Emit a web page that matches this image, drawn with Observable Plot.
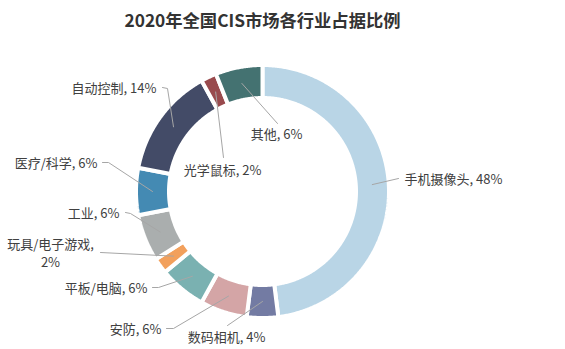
<!DOCTYPE html>
<html>
<head>
<meta charset="utf-8">
<script src="https://cdn.jsdelivr.net/npm/d3@7"></script>
<script src="https://cdn.jsdelivr.net/npm/@observablehq/plot@0.6"></script>
<style>
  html, body { margin: 0; padding: 0; background: #ffffff; }
  #chart svg { display: block; }
</style>
</head>
<body>
<div id="chart"></div>
<script>
// ---- data ----
const title = "2020年全国CIS市场各行业占据比例";
const categories = ["手机摄像头", "数码相机", "安防", "平板/电脑", "玩具/电子游戏", "工业", "医疗/科学", "自动控制", "光学鼠标", "其他"];
const shares = [48, 4, 6, 6, 2, 6, 6, 14, 2, 6];
const colors = ["#b9d5e6", "#737ba3", "#d4a5a6", "#7ab1b1", "#f2a05c", "#aaaeae", "#448ab3", "#434b67", "#994a4d", "#447271"];

// ---- layout (pixels relative to donut centre, screen orientation) ----
const W = 565, H = 349, CX = 262, CY = 191;
const R = 126.5, r = 93.5, anchorR = 110;
// label text point, text anchor, leader line points (after the slice anchor)
const labelLayout = [
  {tx: 142, ty: -13, ta: "start", pts: [[136, -13]]},
  {tx: -36, ty: 145, ta: "middle", pts: [[-35, 134]]},
  {tx: -101, ty: 137, ta: "end", pts: [[-89, 137], [-96, 137]]},
  {tx: -115, ty: 96, ta: "end", pts: [[-104, 96], [-110, 96]]},
  {tx: -212, ty: 61, ta: "middle", pts: [[-162, 61]], wrap: true},
  {tx: -143, ty: 21, ta: "end", pts: [[-132, 22], [-137, 21]]},
  {tx: -165, ty: -29, ta: "end", pts: [[-154, -29], [-160, -29]]},
  {tx: -106, ty: -104, ta: "end", pts: [[-95, -103], [-100, -104]]},
  {tx: -40, ty: -22, ta: "middle", pts: [[-39, -34]]},
  {tx: 14, ty: -58, ta: "middle", pts: [[15, -68]]}
];

// ---- derived geometry ----
const total = d3.sum(shares);
const slices = [];
let acc = 0;
categories.forEach((name, i) => {
  const a0 = acc / total * 2 * Math.PI;
  acc += shares[i];
  const a1 = acc / total * 2 * Math.PI;
  slices.push({name, share: shares[i], a0, a1, mid: (a0 + a1) / 2});
});
const polar = (rho, a) => ({x: rho * Math.sin(a), y: -rho * Math.cos(a)});

const slicePts = [];
for (const s of slices) {
  const n = Math.max(2, Math.ceil((s.a1 - s.a0) / (Math.PI / 360)));
  for (let k = 0; k <= n; k++) {
    const a = s.a0 + (s.a1 - s.a0) * k / n;
    slicePts.push({name: s.name, ...polar(R, a)});
  }
  for (let k = n; k >= 0; k--) {
    const a = s.a0 + (s.a1 - s.a0) * k / n;
    slicePts.push({name: s.name, ...polar(r, a)});
  }
}

const leaderPts = [];
const labels = [];
slices.forEach((s, i) => {
  const L = labelLayout[i];
  const p = polar(anchorR, s.mid);
  leaderPts.push({name: s.name, x: p.x, y: p.y});
  for (const [x, y] of L.pts) leaderPts.push({name: s.name, x, y});
  const text = L.wrap ? `${s.name},\n${s.share}%` : `${s.name}, ${s.share}%`;
  labels.push({x: L.tx, y: L.ty, anchor: L.ta, text});
});

const font = "'Noto Sans CJK SC', 'Microsoft YaHei', sans-serif";

const chart = Plot.plot({
  width: W,
  height: H,
  margin: 0,
  style: {fontFamily: font, background: "#ffffff"},
  x: {domain: [-CX, W - CX], range: [0, W], axis: null},
  y: {domain: [-CY, H - CY], range: [0, H], axis: null},
  color: {domain: categories, range: colors},
  marks: [
    Plot.line(slicePts, {x: "x", y: "y", z: "name", fill: "name", stroke: "#ffffff", strokeWidth: 4, strokeLinejoin: "miter", curve: "linear-closed"}),
    Plot.line(leaderPts, {x: "x", y: "y", z: "name", stroke: "#a6a6a6", strokeWidth: 1}),
    ...["start", "middle", "end"].map(ta =>
      Plot.text(labels.filter(d => d.anchor === ta), {
        x: "x", y: "y", text: "text", textAnchor: ta, lineAnchor: "middle",
        lineHeight: 1.38, fontSize: 13, fill: "#404040"
      })
    ),
    Plot.text([title], {x: () => 0, frameAnchor: "top", dy: 21, text: d => d, lineAnchor: "middle",
      fontSize: 17.3, fontWeight: "bold", fill: "#333333"})
  ]
});
document.getElementById("chart").appendChild(chart);
</script>
</body>
</html>
